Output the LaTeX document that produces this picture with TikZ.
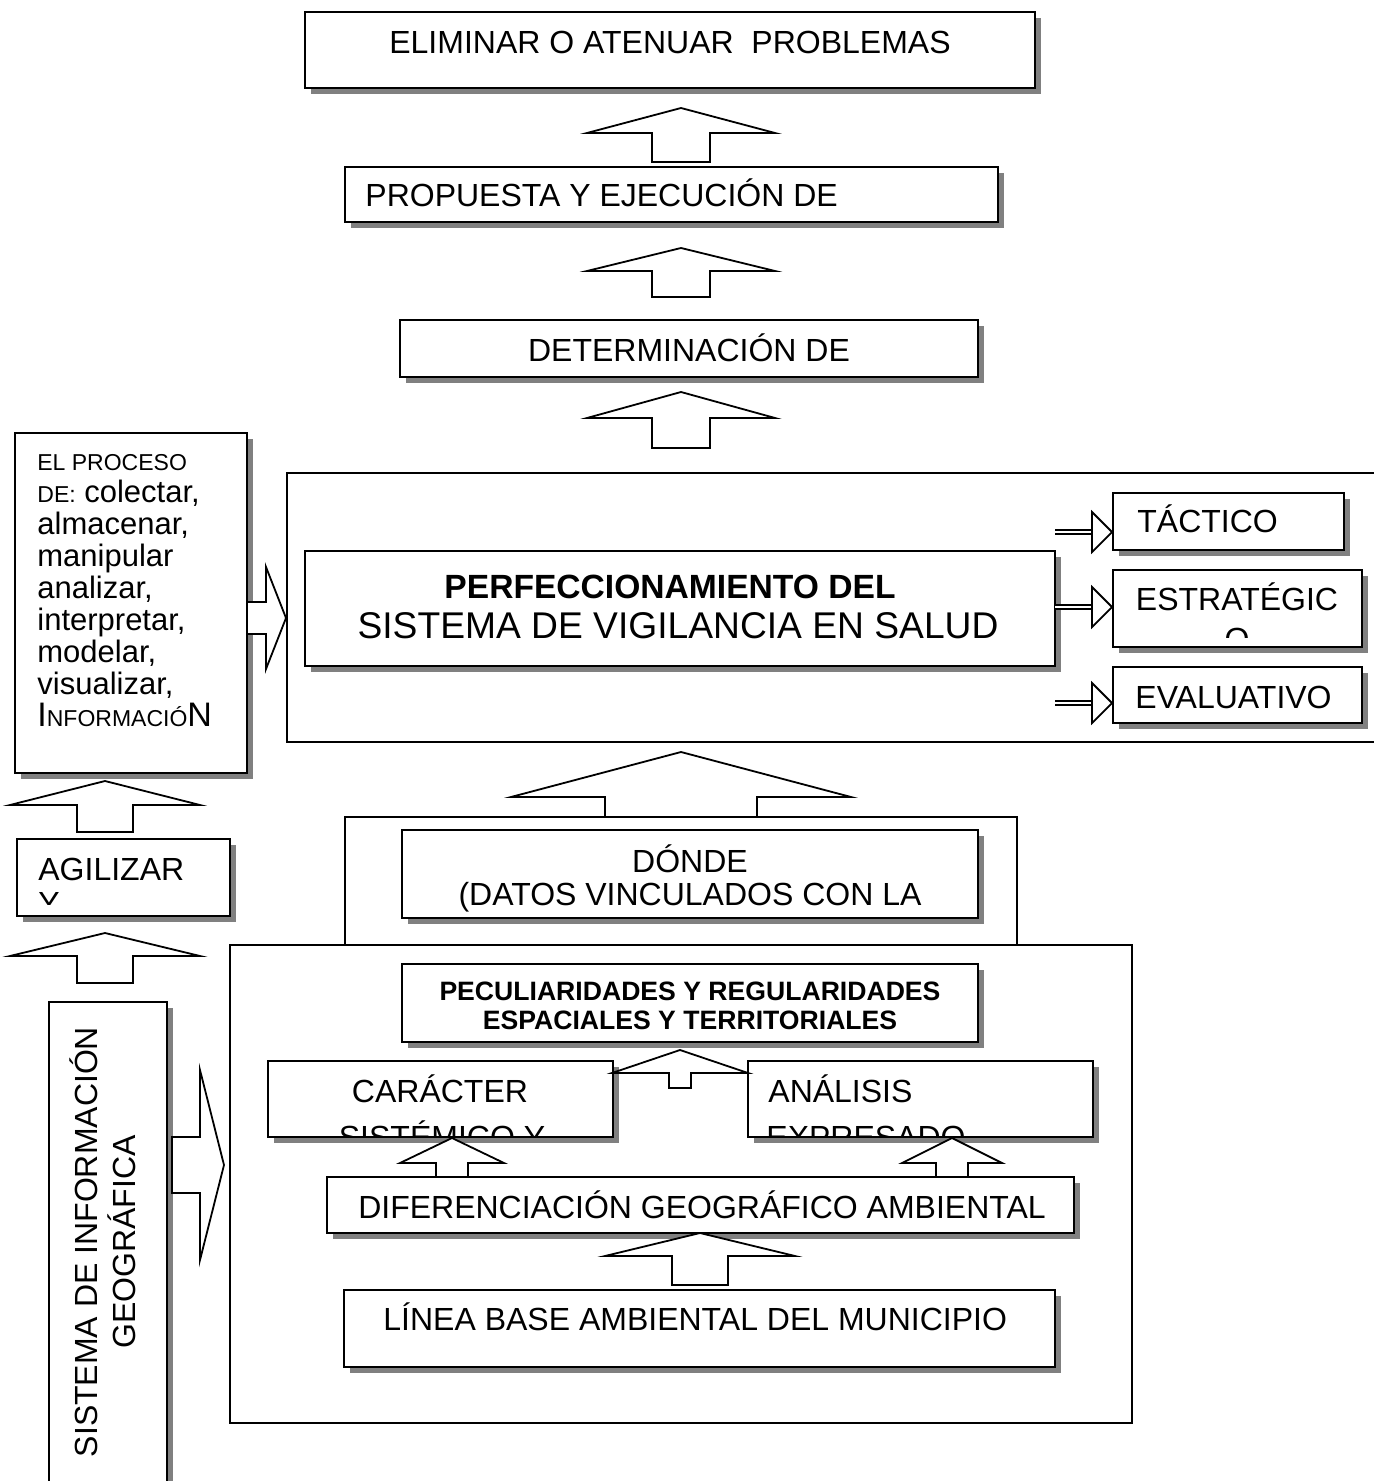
\documentclass[tikz,border=0pt]{standalone}
\usepackage{fontspec}
\setmainfont{Liberation Sans}
\usetikzlibrary{shadows}
\definecolor{shd}{HTML}{808080}
\tikzset{
  box/.style={draw=black, line width=1.2pt, fill=white, rectangle, inner sep=0pt, outer sep=0pt,
    general shadow={fill=shd, shadow xshift=3pt, shadow yshift=-3pt}},
  frame/.style={draw=black, line width=0.8pt, rectangle, inner sep=0pt, outer sep=0pt},
  arr/.style={draw=black, line width=0.9pt, fill=white, line join=miter},
  txt/.style={inner sep=0pt, font=\fontsize{16}{18}\selectfont},
  ptxt/.style={inner sep=0pt, anchor=base west, font=\fontsize{15.5}{16}\selectfont},
}
\newcommand\Bx[6][box]{\node[#1, minimum width={(#5-#3)*0.5pt}, minimum height={(#6-#4)*0.5pt}] (#2) at ({(#3+#5)/2},{(#4+#6)/2}) {};}
\newcommand\smc[1]{{\fontsize{11.5}{12}\selectfont #1}}
\newcommand\bigc[1]{{\fontsize{17}{18}\selectfont #1}}
% up arrow: cx, tipy, baseY, head half width, shaft half width, bottom y
\newcommand\UpArr[6]{\draw[arr] (#1,#2) -- ({#1+#4},#3) -- ({#1+#5},#3) -- ({#1+#5},#6) -- ({#1-#5},#6) -- ({#1-#5},#3) -- ({#1-#4},#3) -- cycle;}
% right arrow: cy, tipx, baseX, head half height, shaft half height, left x
\newcommand\RtArr[6]{\draw[arr] (#2,#1) -- (#3,{#1-#4}) -- (#3,{#1-#5}) -- (#6,{#1-#5}) -- (#6,{#1+#5}) -- (#3,{#1+#5}) -- (#3,{#1+#4}) -- cycle;}
\newcommand\DblArr[1]{\draw[line width=0.7pt, double, double distance=1.4pt] (1055,#1) -- (1093,#1);
  \draw[arr] (1092,{#1-20}) -- (1112,#1) -- (1092,{#1+20}) -- cycle;}
\begin{document}
\begin{tikzpicture}[x=0.5pt,y=-0.5pt]
\clip (0,0) rectangle (1374,1481);
\fill[white] (0,0) rectangle (1374,1481);
% frames
\Bx[frame]{fTop}{287}{473}{1420}{742}
\Bx[frame]{fMid}{345}{817}{1017}{945}
\Bx[frame]{fBot}{230}{945}{1132}{1423}
% boxes
\Bx{bElim}{305}{12}{1035}{88}
\Bx{bProp}{345}{167}{998}{222}
\Bx{bDet}{400}{320}{978}{377}
\Bx{bProc}{15}{433}{247}{773}
\Bx{bPerf}{305}{551}{1055}{666}
\Bx{bTac}{1113}{493}{1344}{550}
\Bx{bEst}{1113}{570}{1362}{647}
\Bx{bEva}{1113}{667}{1362}{723}
\Bx{bAgi}{17}{839}{230}{916}
\Bx{bDon}{402}{830}{978}{918}
\Bx{bPec}{402}{964}{978}{1042}
\Bx{bCar}{268}{1061}{613}{1137}
\Bx{bAna}{748}{1061}{1093}{1137}
\Bx{bDif}{327}{1177}{1074}{1233}
\Bx{bLin}{344}{1290}{1055}{1367}
\Bx{bSig}{49}{1002}{167}{1530}
% arrows
\UpArr{681}{108}{133}{94}{29}{162}
\UpArr{681}{248}{271}{94}{29}{297}
\UpArr{681}{392}{418}{94}{29}{448}
\UpArr{681}{752}{797}{170}{76}{817}
\UpArr{680}{1050}{1073}{68}{11}{1088}
\UpArr{452}{1138}{1163}{52}{16}{1177}
\UpArr{952}{1138}{1163}{50}{16}{1177}
\UpArr{700}{1233}{1256}{95}{28}{1285}
\UpArr{105}{781}{805}{95}{28}{832}
\UpArr{105}{933}{956}{95}{28}{983}
\RtArr{618}{286}{266}{51}{16}{247}
\RtArr{1165}{224}{200}{95}{28}{172}
\DblArr{532}
\DblArr{607}
\DblArr{703}
% texts
\node[txt, anchor=base] (tElim) at (670,54) {ELIMINAR O ATENUAR \ PROBLEMAS};
\node[txt, anchor=base west] (tProp) at (365,207) {PROPUESTA Y EJECUCIÓN DE};
\node[txt, anchor=base] (tDet) at (689,361) {DETERMINACIÓN DE};
\node[ptxt] (p1) at (37,470) {\smc{EL PROCESO}};
\node[ptxt] (p2) at (37,502) {\smc{DE:} colectar,};
\node[ptxt] (p3) at (37,534) {almacenar,};
\node[ptxt] (p4) at (37,566) {manipular};
\node[ptxt] (p5) at (37,598) {analizar,};
\node[ptxt] (p6) at (37,630) {interpretar,};
\node[ptxt] (p7) at (37,662) {modelar,};
\node[ptxt] (p8) at (37,694) {visualizar,};
\node[ptxt] (p9) at (37,726) {\bigc{I}\smc{NFORMACIÓ}\bigc{N}};
\node[inner sep=0pt, anchor=base, font=\bfseries\fontsize{16.8}{18}\selectfont] (tPerf1) at (670,598) {PERFECCIONAMIENTO DEL};
\node[inner sep=0pt, anchor=base, font=\fontsize{18.6}{20}\selectfont] (tPerf2) at (678,638) {SISTEMA DE VIGILANCIA EN SALUD};
\node[txt, anchor=base west] (tTac) at (1137,532) {TÁCTICO};
\node[txt, anchor=base] (tEst) at (1237,610) {ESTRATÉGIC};
\node[txt, anchor=base west] (tEva) at (1135,708) {EVALUATIVO};
\node[txt, anchor=base west] (tAgi) at (38,880) {AGILIZAR};
\node[txt, anchor=base] (tDon1) at (690,872) {DÓNDE};
\node[txt, anchor=base] (tDon2) at (690,905) {(DATOS VINCULADOS CON LA};
\node[inner sep=0pt, anchor=base, font=\bfseries\fontsize{13.3}{15}\selectfont] (tPec1) at (690,1000) {PECULIARIDADES Y REGULARIDADES};
\node[inner sep=0pt, anchor=base, font=\bfseries\fontsize{13.3}{15}\selectfont] (tPec2) at (690,1029) {ESPACIALES Y TERRITORIALES};
\node[txt, anchor=base] (tCar) at (440,1102) {CARÁCTER};
\node[txt, anchor=base west] (tAna) at (768,1102) {ANÁLISIS};
\node[txt, anchor=base] (tDif) at (702,1218) {DIFERENCIACIÓN GEOGRÁFICO AMBIENTAL};
\node[txt, anchor=base west] (tLin) at (383,1330) {LÍNEA BASE AMBIENTAL DEL MUNICIPIO};
\node[txt, anchor=base, rotate=90] (tSig1) at (97,1242) {SISTEMA DE INFORMACIÓN};
\node[txt, anchor=base, rotate=90] (tSig2) at (135,1242) {GEOGRÁFICA};
% clipped second lines
\begin{scope}
  \clip (1113,570) rectangle (1362,637);
  \node[txt, anchor=base] (tEst2) at (1237,650) {O};
\end{scope}
\begin{scope}
  \clip (17,839) rectangle (230,904);
  \node[txt, anchor=base west] (tAgi2) at (38,914) {Y};
\end{scope}
\begin{scope}
  \clip (268,1061) rectangle (613,1135);
  \node[txt, anchor=base] (tCar2) at (442,1148) {SISTÉMICO Y};
\end{scope}
\begin{scope}
  \clip (748,1061) rectangle (1093,1135);
  \node[txt, anchor=base west] (tAna2) at (766,1148) {EXPRESADO};
\end{scope}
\end{tikzpicture}
\end{document}
